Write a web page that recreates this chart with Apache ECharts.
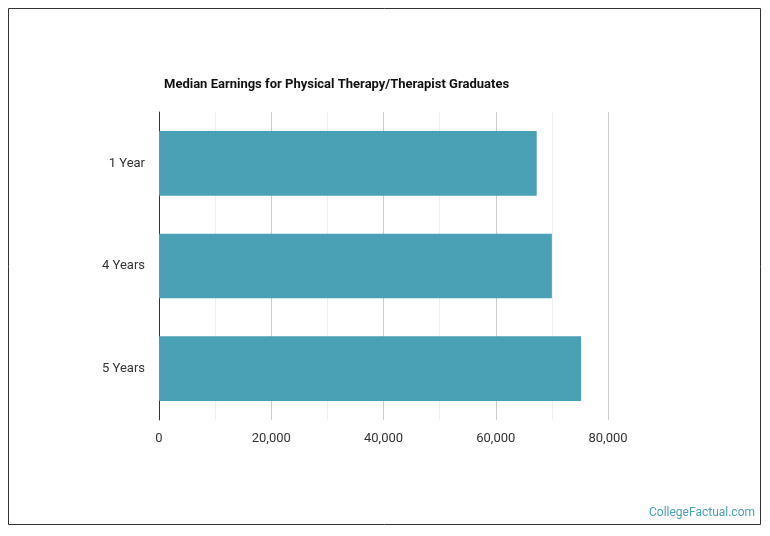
<!DOCTYPE html>
<html><head><meta charset="utf-8">
<script src="https://cdn.jsdelivr.net/npm/echarts@6/dist/echarts.min.js"></script>
<style>html,body{margin:0;padding:0;background:#fff}#c{width:770px;height:536px}</style>
</head><body><div id="c"></div>
<script>
var categories = ['1 Year', '4 Years', '5 Years'];
var values = [67300, 70000, 75200];
var chart = echarts.init(document.getElementById('c'));
chart.setOption({
  animation: false,
  title: {text: 'Median Earnings for Physical Therapy/Therapist Graduates', left: 159, top: 73,
    textStyle: {fontFamily: 'Roboto', fontSize: 13, fontWeight: 'bold', color: '#111'}},
  graphic: [
    {type: 'rect', shape: {x: 8.5, y: 8.5, width: 752, height: 516}, style: {fill: 'none', stroke: '#333', lineWidth: 1}},
    {type: 'text', right: 15, top: 507, style: {text: 'CollegeFactual.com', fill: '#4aa0b5', font: '12px Roboto'}}
  ],
  grid: {left: 159, right: 162, top: 112, bottom: 116},
  xAxis: {type: 'value', min: 0, max: 80000, interval: 10000,
    axisLine: {show: false}, axisTick: {show: false},
    axisLabel: {fontFamily: 'Roboto', fontSize: 13, color: '#333', margin: 12,
      formatter: function (v) { return v % 20000 === 0 ? v.toLocaleString('en-US') : ''; }},
    splitLine: {lineStyle: {color: ['#ccc', '#eee']}}},
  yAxis: {type: 'category', data: categories, inverse: true,
    axisLine: {lineStyle: {color: '#333'}}, axisTick: {show: false},
    axisLabel: {fontFamily: 'Roboto', fontSize: 13, color: '#333', margin: 14}},
  series: [{type: 'bar', data: values, barWidth: '63%', itemStyle: {color: '#4aa0b5'}}]
});
</script></body></html>
